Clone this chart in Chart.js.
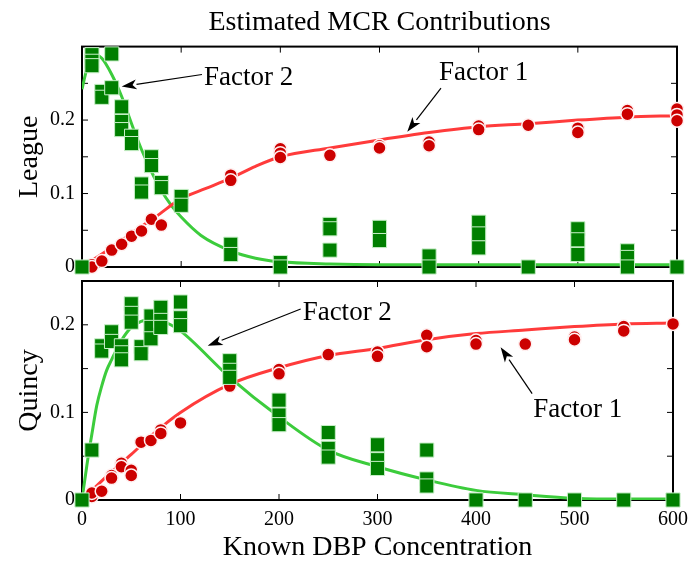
<!DOCTYPE html>
<html>
<head>
<meta charset="utf-8">
<script src="https://cdn.jsdelivr.net/npm/chart.js@4.4.1/dist/chart.umd.min.js"></script>
<style>
  body { margin: 0; background: #fff; }
  #wrap { position: relative; width: 696px; height: 564px; }
  #top { position: absolute; left: 0; top: 0; }
  #bot { position: absolute; left: 0; top: 262px; }
</style>
</head>
<body>
<div id="wrap">
  <canvas id="top" width="696" height="286"></canvas>
  <canvas id="bot" width="696" height="302"></canvas>
</div>
<script>
// League - measured points
var leagueF2X = [0, 10,10,10, 20,20, 30,30, 40,40,40, 50,50, 60,60, 70,70, 80,80, 100,100, 150,150, 200,200, 250,250,250, 300,300, 350,350, 400,400,400, 450, 500,500,500, 550,550,550, 600];
var leagueF2Y = [0, 0.289,0.28,0.274, 0.239,0.231, 0.29,0.244, 0.218,0.198,0.187, 0.178,0.168, 0.113,0.102, 0.15,0.138, 0.115,0.108, 0.096,0.084, 0.031,0.017, 0.006,0.0, 0.058,0.052,0.023, 0.054,0.036, 0.015,0.0, 0.061,0.045,0.026, 0.0, 0.052,0.037,0.017, 0.022,0.013,0.0, 0.0];
var leagueF1X = [10,10, 20, 30, 40, 50, 60, 70, 80, 100, 150,150, 200,200,200, 250, 300,300, 350,350, 400,400, 450, 500,500, 550,550, 600,600,600];
var leagueF1Y = [0.003,0.0, 0.008, 0.023, 0.031, 0.042, 0.049, 0.065, 0.057, 0.09, 0.125,0.118, 0.161,0.155,0.149, 0.152, 0.165,0.162, 0.17,0.165, 0.192,0.187, 0.193, 0.189,0.183, 0.213,0.208, 0.215,0.207,0.199];
// League - fitted curves
var leagueFit1X = [0, 25, 50, 75, 100, 125, 150, 175, 200, 250, 300, 350, 400, 450, 500, 550, 600];
var leagueFit1Y = [0, 0.022, 0.046, 0.069, 0.093, 0.107, 0.121, 0.137, 0.15, 0.162, 0.173, 0.183, 0.191, 0.195, 0.2, 0.204, 0.206];
var leagueFit2X = [0, 5, 10, 15, 20, 30, 40, 50, 60, 70, 80, 90, 100, 120, 150, 175, 200, 250, 300, 400, 500, 600];
var leagueFit2Y = [0.242, 0.27, 0.284, 0.288, 0.284, 0.262, 0.232, 0.195, 0.16, 0.13, 0.104, 0.084, 0.068, 0.043, 0.022, 0.012, 0.007, 0.004, 0.003, 0.003, 0.003, 0.003];

// Quincy - measured points
var quincyF2X = [0, 10, 20,20, 30,30, 40,40,40, 50,50,50, 60,60, 70,70,70, 80,80,80, 100,100,100, 150,150,150, 200,200,200, 250,250,250, 300,300,300, 350,350,350, 400, 450, 500, 550, 600];
var quincyF2Y = [0, 0.057, 0.176,0.17, 0.192,0.181, 0.176,0.168,0.16, 0.224,0.213,0.203, 0.175,0.167, 0.21,0.197,0.184, 0.22,0.205,0.197, 0.226,0.208,0.199, 0.159,0.148,0.14, 0.114,0.097,0.086, 0.077,0.059,0.049, 0.063,0.046,0.036, 0.057,0.024,0.016, 0, 0, 0, 0, 0];
var quincyF1X = [10,10, 20, 30,30, 40,40, 50,50, 60, 70, 80,80, 100, 150, 200,200, 250, 300,300, 350,350, 400,400, 450, 500,500, 550,550, 600];
var quincyF1Y = [0.004,0.008, 0.01, 0.028,0.025, 0.042,0.038, 0.034,0.028, 0.066, 0.068, 0.08,0.076, 0.088, 0.13, 0.149,0.144, 0.166, 0.169,0.164, 0.188,0.175, 0.182,0.178, 0.178, 0.186,0.183, 0.198,0.193, 0.201];
// Quincy - fitted curves
var quincyFit1X = [0, 25, 50, 75, 100, 150, 200, 250, 300, 350, 400, 450, 500, 550, 600];
var quincyFit1Y = [0, 0.027, 0.052, 0.078, 0.1, 0.132, 0.151, 0.165, 0.173, 0.183, 0.19, 0.194, 0.198, 0.201, 0.202];
var quincyFit2X = [0, 5, 10, 15, 20, 25, 30, 40, 50, 60, 70, 80, 90, 100, 150, 200, 250, 300, 350, 400, 450, 500, 550, 600];
var quincyFit2Y = [0, 0.04, 0.075, 0.108, 0.13, 0.148, 0.16, 0.182, 0.197, 0.204, 0.206, 0.205, 0.2, 0.193, 0.14, 0.095, 0.057, 0.038, 0.023, 0.011, 0.006, 0.002, 0.001, 0.001];

var yTickLabels = ['0', '0.1', '0.2'];

Chart.defaults.font.family = "'Liberation Serif', 'Times New Roman', serif";
Chart.defaults.color = '#000';

function pts(xs, ys)
{
  return xs.map(function(x, i){ return {x: x, y: ys[i]}; });
}

function yLabel(v)
{
  // only every other tick gets a label
  var i = Math.round(v * 10);
  if (Math.abs(v * 10 - i) > 1e-6) return '';
  return yTickLabels[i] || '';
}

// box round the plot with inward ticks on all four sides
var framePlugin = {
  id: 'frame',
  beforeDatasetsDraw: function(chart) {
    var ctx = chart.ctx, a = chart.chartArea;
    var xs = chart.scales.x, ys = chart.scales.y;
    ctx.save();
    ctx.strokeStyle = '#000';
    ctx.lineWidth = 1;
    ctx.beginPath();
    ys.ticks.forEach(function(t){
      var py = ys.getPixelForValue(t.value);
      ctx.moveTo(a.left, py); ctx.lineTo(a.left + 6, py);
      ctx.moveTo(a.right, py); ctx.lineTo(a.right - 6, py);
    });
    for (var v = xs.min; v <= xs.max; v += 100) {
      var px = xs.getPixelForValue(v);
      ctx.moveTo(px, a.top); ctx.lineTo(px, a.top + 6);
      ctx.moveTo(px, a.bottom); ctx.lineTo(px, a.bottom - 6);
    }
    ctx.stroke();
    ctx.lineWidth = 2;
    ctx.strokeRect(a.left, a.top, a.right - a.left, a.bottom - a.top);
    ctx.restore();
  }
};

// "Factor n" labels with arrows, given in data units
var notesPlugin = {
  id: 'notes',
  afterDatasetsDraw: function(chart, args, opts) {
    var ctx = chart.ctx;
    var xs = chart.scales.x, ys = chart.scales.y;
    ctx.save();
    ctx.fillStyle = '#000';
    ctx.strokeStyle = '#000';
    ctx.font = "27px 'Liberation Serif', serif";
    ctx.textBaseline = 'middle';
    ctx.textAlign = 'left';
    (opts.items || []).forEach(function(n){
      ctx.fillText(n.text, xs.getPixelForValue(n.tx), ys.getPixelForValue(n.ty));
      var x0 = xs.getPixelForValue(n.ax0), y0 = ys.getPixelForValue(n.ay0);
      var x1 = xs.getPixelForValue(n.ax1), y1 = ys.getPixelForValue(n.ay1);
      var ang = Math.atan2(y1 - y0, x1 - x0);
      var hl = 15, hw = 5;
      var bx = x1 - hl * Math.cos(ang), by = y1 - hl * Math.sin(ang);
      ctx.lineWidth = 1.2;
      ctx.beginPath();
      ctx.moveTo(x0, y0);
      ctx.lineTo(bx, by);
      ctx.stroke();
      ctx.beginPath();
      ctx.moveTo(x1, y1);
      ctx.lineTo(bx + hw * Math.sin(ang), by - hw * Math.cos(ang));
      ctx.lineTo(x1 - (hl - 4) * Math.cos(ang), y1 - (hl - 4) * Math.sin(ang));
      ctx.lineTo(bx - hw * Math.sin(ang), by + hw * Math.cos(ang));
      ctx.closePath();
      ctx.fill();
    });
    ctx.restore();
  }
};

function makeDatasets(f1x, f1y, f2x, f2y, fit1x, fit1y, fit2x, fit2y)
{
  return [
    {
      label: 'Factor 1',
      data: pts(f1x, f1y),
      pointStyle: 'circle',
      pointRadius: 6.5,
      backgroundColor: '#cc0000',
      borderColor: '#fff0f0',
      borderWidth: 1.5,
      clip: false,
      order: 1
    },
    {
      label: 'Factor 2',
      data: pts(f2x, f2y),
      pointStyle: 'rect',
      pointRadius: 10,
      backgroundColor: '#007f00',
      borderColor: '#c8f0c8',
      borderWidth: 1,
      clip: false,
      order: 0
    },
    {
      label: 'Fit 1',
      data: pts(fit1x, fit1y),
      showLine: true,
      pointRadius: 0,
      borderColor: '#ff3b3b',
      borderWidth: 3,
      cubicInterpolationMode: 'monotone',
      order: 2
    },
    {
      label: 'Fit 2',
      data: pts(fit2x, fit2y),
      showLine: true,
      pointRadius: 0,
      borderColor: '#3ccc3c',
      borderWidth: 3,
      cubicInterpolationMode: 'monotone',
      order: 3
    }
  ];
}

var topChart = new Chart(document.getElementById('top'), {
  type: 'scatter',
  data: {
    datasets: makeDatasets(leagueF1X, leagueF1Y, leagueF2X, leagueF2Y, leagueFit1X, leagueFit1Y, leagueFit2X, leagueFit2Y)
  },
  options: {
    responsive: false,
    animation: false,
    events: [],
    layout: { padding: { left: 0, right: 19, top: 0, bottom: 14 } },
    plugins: {
      legend: { display: false },
      tooltip: { enabled: false },
      title: {
        display: true,
        fullSize: false,
        text: 'Estimated MCR Contributions',
        font: { size: 28, weight: 'normal' },
        color: '#000',
        padding: { top: 6, bottom: 7 }
      },
      notes: {
        items: [
          { text: 'Factor 2', tx: 123, ty: 0.257, ax0: 121, ay0: 0.262, ax1: 40, ay1: 0.2456 },
          { text: 'Factor 1', tx: 360, ty: 0.264, ax0: 362, ay0: 0.2434, ax1: 328, ay1: 0.184 }
        ]
      }
    },
    scales: {
      x: {
        type: 'linear',
        display: false,
        min: 0,
        max: 600
      },
      y: {
        min: 0,
        max: 0.3,
        ticks: { stepSize: 0.05, font: { size: 20 }, padding: 7, callback: yLabel },
        grid: { display: false, drawTicks: false },
        border: { display: false },
        title: { display: true, text: 'League', font: { size: 28 }, padding: { top: 13, bottom: 0 } },
        afterFit: function(s){ s.width = 82; }
      }
    }
  },
  plugins: [framePlugin, notesPlugin]
});

var botChart = new Chart(document.getElementById('bot'), {
  type: 'scatter',
  data: {
    datasets: makeDatasets(quincyF1X, quincyF1Y, quincyF2X, quincyF2Y, quincyFit1X, quincyFit1Y, quincyFit2X, quincyFit2Y)
  },
  options: {
    responsive: false,
    animation: false,
    events: [],
    layout: { padding: { left: 0, right: 19, top: 11, bottom: 0 } },
    plugins: {
      legend: { display: false },
      tooltip: { enabled: false },
      notes: {
        items: [
          { text: 'Factor 2', tx: 224, ty: 0.214, ax0: 222, ay0: 0.218, ax1: 127.6, ay1: 0.176 },
          { text: 'Factor 1', tx: 458, ty: 0.1024, ax0: 457, ay0: 0.1214, ax1: 425, ay1: 0.1744 }
        ]
      }
    },
    scales: {
      x: {
        type: 'linear',
        min: 0,
        max: 600,
        ticks: { stepSize: 100, font: { size: 20 }, padding: 8 },
        grid: { display: false, drawTicks: false },
        border: { display: false },
        title: { display: true, text: 'Known DBP Concentration', font: { size: 28 }, padding: { top: 0, bottom: 0 } },
        afterFit: function(s){ s.height = 64; }
      },
      y: {
        min: 0,
        max: 0.25,
        ticks: { stepSize: 0.05, font: { size: 20 }, padding: 7, callback: yLabel },
        grid: { display: false, drawTicks: false },
        border: { display: false },
        title: { display: true, text: 'Quincy', font: { size: 28 }, padding: { top: 13, bottom: 0 } },
        afterFit: function(s){ s.width = 82; }
      }
    }
  },
  plugins: [framePlugin, notesPlugin]
});
</script>
</body>
</html>
